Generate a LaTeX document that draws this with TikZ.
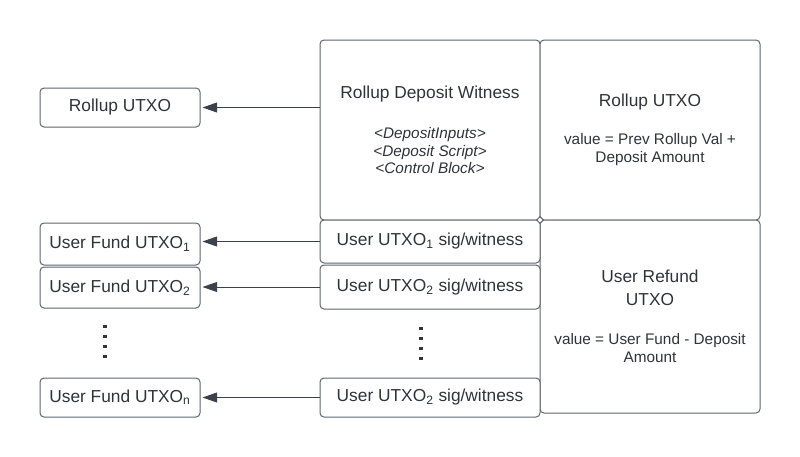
\documentclass[tikz,border=0pt]{standalone}
\usepackage{fontspec}
\setmainfont{Liberation Sans}
\usepackage{xcolor}
\usetikzlibrary{arrows.meta,shapes.geometric}
\definecolor{boxline}{HTML}{5F6670}
\definecolor{arrowline}{HTML}{3B424B}
\definecolor{txtcol}{HTML}{2F333A}
\newcommand{\px}{0.75pt}
\newcommand{\bigtxt}{\fontsize{13}{16}\selectfont}
\newcommand{\smalltxt}{\fontsize{11.5}{13.3}\selectfont}
\newcommand{\smallit}{\fontsize{11.5}{13.3}\selectfont\itshape}
\tikzset{
  utxobox/.style={draw=boxline, line width=\px, rounded corners=3pt, fill=white,
    text=txtcol, font=\bigtxt, align=center, inner sep=0pt},
  fundbox/.style={utxobox, minimum width=160*\px},
  sigbox/.style={utxobox, minimum width=220*\px},
  vdots/.style={draw=txtcol, line width=2.6pt, dash pattern=on 2.5pt off 4.9pt}
}

\begin{document}
\begin{tikzpicture}[x=\px,y=-\px,>={Triangle[length=11pt,width=7.5pt]}]
\useasboundingbox (0,0) rectangle (800,457);

% Rollup deposit witness and rollup output
\node[sigbox, minimum height=180*\px] (witness) at (430,130)
  {Rollup Deposit Witness\\[14pt]
   \smallit <DepositInputs>\\[-2.9pt] \smallit <Deposit Script>\\[-2.9pt] \smallit <Control Block>};
\node[sigbox, minimum height=180*\px] (rollout) at (650,130)
  {Rollup UTXO\\[12.5pt]
   \smalltxt value = Prev Rollup Val +\\[-2.5pt] \smalltxt Deposit Amount};

% User refund output
\node[sigbox, minimum height=193*\px] (refund) at (650,316.5)
  {User Refund\\[1pt] UTXO\\[13.5pt]
   \smalltxt value = User Fund - Deposit\\[-2.5pt] \smalltxt Amount};

% User signatures
\node[sigbox, minimum height=43*\px] (sig1) at (430,241.5) {User UTXO\textsubscript{1} sig/witness};
\node[sigbox, minimum height=44*\px] (sig2) at (430,287) {User UTXO\textsubscript{2} sig/witness};
\node[sigbox, minimum height=39*\px] (sign) at (430,397.5) {User UTXO\textsubscript{2} sig/witness};
\node[draw=boxline, fill=white, line width=\px, diamond, minimum size=7*\px, inner sep=0pt] (joint) at (540,220) {};

% Spent outputs
\node[fundbox, minimum height=39*\px] (rollup) at (120,107.5) {Rollup UTXO};
\node[fundbox, minimum height=42*\px] (fund1) at (120,244) {User Fund UTXO\textsubscript{1}};
\node[fundbox, minimum height=41*\px] (fund2) at (120,287.5) {User Fund UTXO\textsubscript{2}};
\node[fundbox, minimum height=39*\px] (fundn) at (120,397.5) {User Fund UTXO\textsubscript{n}};

% Dots
\draw[vdots] (105,325) -- (105,358);
\draw[vdots] (421,327) -- (421,360);

% Witness to output arrows
\draw[->, draw=arrowline, fill=arrowline, line width=\px, shorten >=1.5pt]
  (rollup.east -| witness.west) -- (rollup.east);
\draw[->, draw=arrowline, fill=arrowline, line width=\px, shorten >=1.5pt]
  (sig1.west) -- (sig1.west -| fund1.east);
\draw[->, draw=arrowline, fill=arrowline, line width=\px, shorten >=1.5pt]
  (sig2.west) -- (sig2.west -| fund2.east);
\draw[->, draw=arrowline, fill=arrowline, line width=\px, shorten >=1.5pt]
  (sign.west) -- (sign.west -| fundn.east);

\end{tikzpicture}
\end{document}
